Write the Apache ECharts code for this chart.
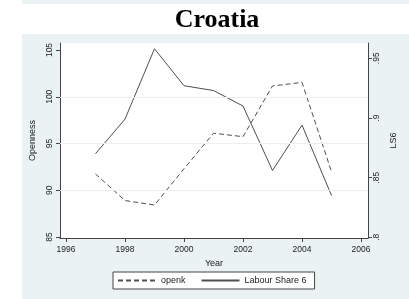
<!DOCTYPE html>
<html>
<head>
<meta charset="utf-8">
<script src="https://cdn.jsdelivr.net/npm/echarts@6/dist/echarts.min.js"></script>
<style>html,body{margin:0;padding:0;background:#fff}#c{width:409px;height:299px}</style>
</head>
<body>
<div id="c"></div>
<script>
const years = [1997, 1998, 1999, 2000, 2001, 2002, 2003, 2004, 2005];
const openk = [91.74, 88.9, 88.42, 92.3, 96.1, 95.73, 101.15, 101.54, 91.98];
const ls6 = [0.870, 0.899, 0.958, 0.927, 0.923, 0.910, 0.856, 0.894, 0.835];
const xTicks = [1996, 1998, 2000, 2002, 2004, 2006];
const leftTicks = [85, 90, 95, 100, 105];
const rightTicks = [0.8, 0.85, 0.9, 0.95];
const gridValues = [90, 95, 100];

const font = 'Liberation Sans, Arial, sans-serif';
const lineCol = '#4f4f4f';
const axisCol = '#444';
const chart = echarts.init(document.getElementById('c'), null, {renderer: 'canvas'});
chart.setOption({
  backgroundColor: '#eaf2f3',
  animation: false,
  graphic: [
    {type: 'rect', shape: {x: 0, y: 0, width: 22, height: 299}, style: {fill: '#fff'}, silent: true},
    {type: 'rect', shape: {x: 0, y: 4, width: 409, height: 30}, style: {fill: '#fff'}, silent: true}
  ],
  title: {
    text: 'Croatia', left: 212, textAlign: 'center', top: 2,
    textStyle: {fontFamily: 'Liberation Serif, Times New Roman, serif', fontWeight: 'bold', fontSize: 26, color: '#000'}
  },
  grid: {left: 60, right: 41, top: 43, bottom: 61, show: true, backgroundColor: '#fff', borderWidth: 0},
  legend: {
    left: 113, top: 272, orient: 'horizontal',
    backgroundColor: '#fff', borderColor: '#444', borderWidth: 1,
    padding: [4, 8, 4, 4], itemWidth: 38, itemHeight: 10, itemGap: 15,
    itemStyle: {opacity: 0},
    textStyle: {fontFamily: font, fontSize: 9, color: '#222'},
    data: ['openk', 'Labour Share 6']
  },
  xAxis: {
    type: 'value', min: 1995.797, max: 2006.237,
    name: 'Year', nameLocation: 'middle', nameGap: 20,
    nameTextStyle: {fontFamily: font, fontSize: 9, color: '#222'},
    axisLine: {show: true, lineStyle: {color: axisCol, width: 1}},
    axisTick: {show: true, length: 4, customValues: xTicks, lineStyle: {color: axisCol}},
    axisLabel: {customValues: xTicks, fontFamily: font, fontSize: 8.5, color: '#222', margin: 7,
      formatter: v => String(Math.round(v))},
    splitLine: {show: false}
  },
  yAxis: [
    {
      type: 'value', position: 'left', min: 84.893, max: 105.749,
      name: 'Openness', nameLocation: 'middle', nameGap: 19, nameRotate: 90,
      nameTextStyle: {fontFamily: font, fontSize: 9, color: '#222'},
      axisLine: {show: true, lineStyle: {color: axisCol, width: 1}},
      axisTick: {show: true, length: 4, customValues: leftTicks, lineStyle: {color: axisCol}},
      axisLabel: {customValues: leftTicks, rotate: 90, fontFamily: font, fontSize: 8.5, color: '#222', margin: 6},
      splitLine: {show: false}
    },
    {
      type: 'value', position: 'right', min: 0.79941, max: 0.96282,
      name: 'LS6', nameLocation: 'middle', nameGap: 15, nameRotate: 90,
      nameTextStyle: {fontFamily: font, fontSize: 9, color: '#222'},
      axisLine: {show: true, lineStyle: {color: axisCol, width: 1}},
      axisTick: {show: true, length: 4, customValues: rightTicks, lineStyle: {color: axisCol}},
      axisLabel: {customValues: rightTicks, rotate: 90, fontFamily: font, fontSize: 8.5, color: '#222', margin: 4,
        formatter: v => String(+v.toFixed(2)).replace(/^0/, '')},
      splitLine: {show: false}
    }
  ],
  series: [
    {
      name: 'openk', type: 'line', yAxisIndex: 0, symbol: 'none',
      data: years.map((y, i) => [y, openk[i]]),
      lineStyle: {color: lineCol, width: 1, type: [5, 3]},
      itemStyle: {color: lineCol},
      markLine: {
        silent: true, symbol: 'none', label: {show: false},
        lineStyle: {color: '#e8f0f2', width: 1, type: 'solid'},
        data: gridValues.map(v => ({yAxis: v}))
      },
      z: 3
    },
    {
      name: 'Labour Share 6', type: 'line', yAxisIndex: 1, symbol: 'none',
      data: years.map((y, i) => [y, ls6[i]]),
      lineStyle: {color: lineCol, width: 1, type: 'solid'},
      itemStyle: {color: lineCol},
      z: 3
    }
  ]
});
</script>
</body>
</html>
